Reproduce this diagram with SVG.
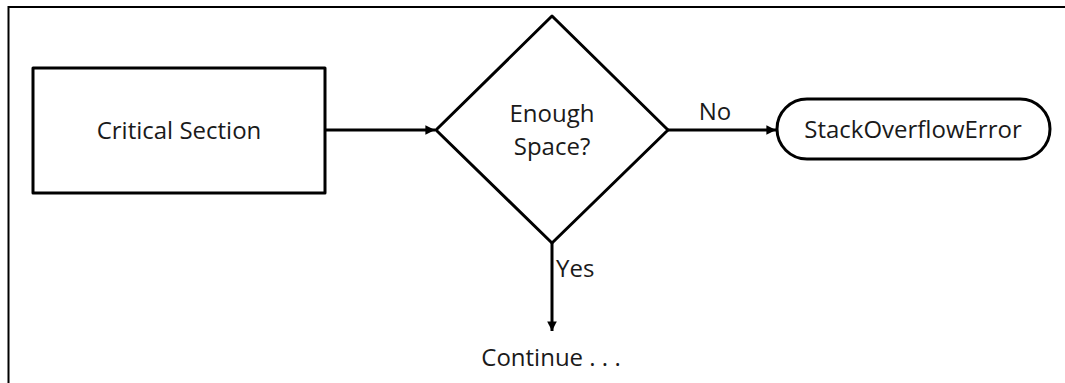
<svg xmlns="http://www.w3.org/2000/svg" width="1065" height="383" viewBox="0 0 1065 383">
<defs>
<style>
.shape{fill:#fff;stroke:#000;stroke-width:3;stroke-linejoin:round}
.frame{fill:none;stroke:#000;stroke-width:2}
.conn{fill:none;stroke:#000;stroke-width:3}
.lbl{font-family:"Open Sans","Noto Sans",sans-serif;font-size:24px;fill:#1a1a1a}
.c{text-anchor:middle}
</style>
<marker id="ah" viewBox="0 0 10 10" refX="10" refY="5" markerWidth="3.6" markerHeight="3.2" orient="auto" markerUnits="strokeWidth">
<path d="M0,0 L10,5 L0,10 z" fill="#000"/>
</marker>
</defs>
<rect width="1065" height="383" fill="#fff"/>
<path class="frame" d="M8.5,383 V7 H1065"/>
<g id="critical-section">
<rect class="shape" x="33" y="68" width="292" height="125"/>
<text class="lbl c" x="179" y="139">Critical Section</text>
</g>
<g id="enough-space">
<polygon class="shape" points="552,16 668,130 552,243 436,130" stroke-width="2.5"/>
<text class="lbl c" x="552" y="122">Enough</text>
<text class="lbl c" x="552" y="155">Space?</text>
</g>
<g id="stack-overflow">
<rect class="shape" x="777" y="99" width="273" height="60" rx="30" ry="30"/>
<text class="lbl c" x="913" y="138">StackOverflowError</text>
</g>
<g id="continue">
<text class="lbl c" x="551" y="366">Continue . . .</text>
</g>
<g id="connectors">
<line class="conn" x1="326" y1="130" x2="435" y2="130" marker-end="url(#ah)"/>
<line class="conn" x1="668" y1="130" x2="776" y2="130" marker-end="url(#ah)"/>
<line class="conn" x1="552" y1="243" x2="552" y2="331" marker-end="url(#ah)"/>
<text class="lbl c" x="715" y="120">No</text>
<text class="lbl" x="556" y="277">Yes</text>
</g>
</svg>
